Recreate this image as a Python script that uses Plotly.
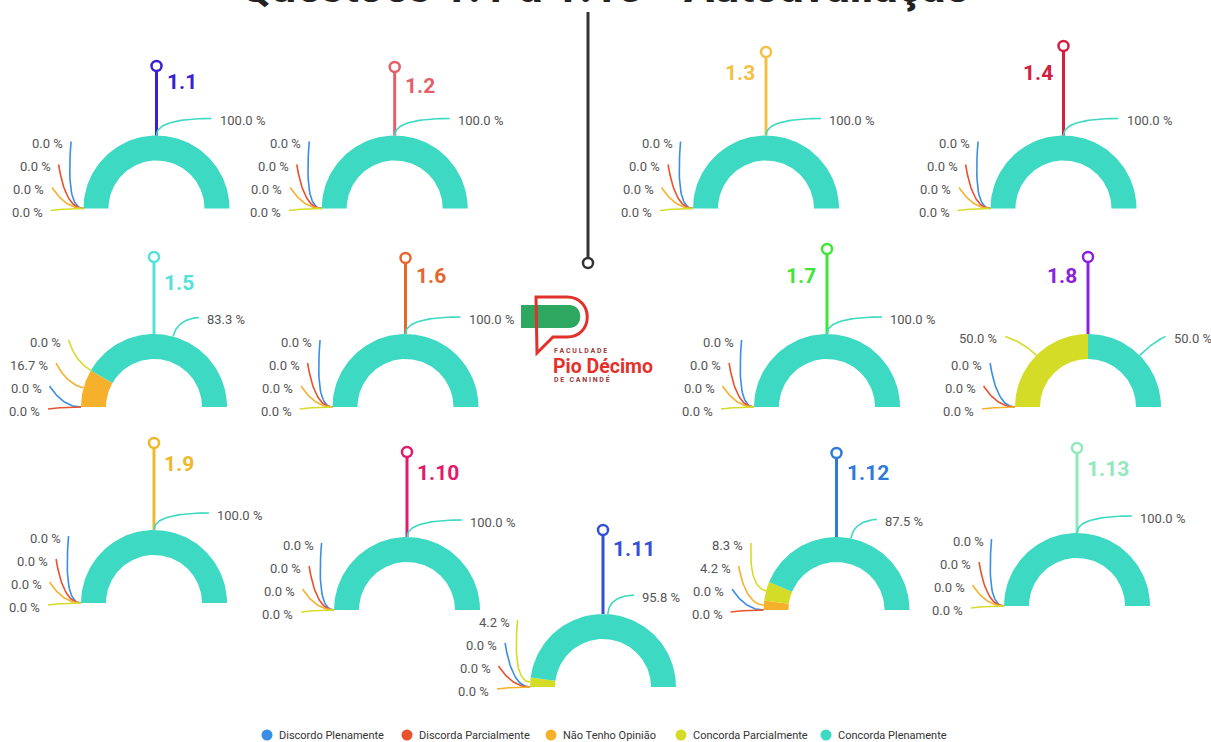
import math
import plotly.graph_objects as go

# ---------------- data ----------------
title_text = "Questões 1.1 a 1.13 - Autoavaliação"
categories = ["Discordo Plenamente", "Discorda Parcialmente", "Não Tenho Opinião",
              "Concorda Parcialmente", "Concorda Plenamente"]
questions = ["1.1", "1.2", "1.3", "1.4", "1.5", "1.6", "1.7", "1.8",
             "1.9", "1.10", "1.11", "1.12", "1.13"]
discordo_plenamente = [0.0, 0.0, 0.0, 0.0, 0.0, 0.0, 0.0, 0.0, 0.0, 0.0, 0.0, 0.0, 0.0]
discorda_parcialmente = [0.0, 0.0, 0.0, 0.0, 0.0, 0.0, 0.0, 0.0, 0.0, 0.0, 0.0, 0.0, 0.0]
nao_tenho_opiniao = [0.0, 0.0, 0.0, 0.0, 16.7, 0.0, 0.0, 0.0, 0.0, 0.0, 0.0, 4.2, 0.0]
concorda_parcialmente = [0.0, 0.0, 0.0, 0.0, 0.0, 0.0, 0.0, 50.0, 0.0, 0.0, 4.2, 8.3, 0.0]
concorda_plenamente = [100.0, 100.0, 100.0, 100.0, 83.3, 100.0, 100.0, 50.0, 100.0, 100.0, 95.8, 87.5, 100.0]

series = [discordo_plenamente, discorda_parcialmente, nao_tenho_opiniao,
          concorda_parcialmente, concorda_plenamente]

# ---------------- styles / layout ----------------
W, H = 1211, 742
R_OUT, R_IN = 73, 48
LABEL_R = 113
FONT = "Roboto"
slice_colors = ["#3a8ee6", "#e8532e", "#f5b12c", "#d5dc28", "#3dd9c2"]
text_color = "#555555"

# layout of each gauge: centre x, baseline y, pin-head y, title side, title y, colour
gauges = [
    dict(cx=156.5, base=208.5, pin=66, side="r", ty=82, color="#3a20d4"),
    dict(cx=394.7, base=208.5, pin=67, side="r", ty=86, color="#e45f68"),
    dict(cx=766.0, base=208.5, pin=52, side="l", ty=73, color="#f2c144"),
    dict(cx=1063.5, base=208.5, pin=46, side="l", ty=73, color="#d2213f"),
    dict(cx=154.0, base=407.0, pin=257, side="r", ty=283, color="#52e2d8"),
    dict(cx=405.5, base=407.0, pin=258, side="r", ty=276, color="#e4682e"),
    dict(cx=827.0, base=407.0, pin=249, side="l", ty=276, color="#3fe636"),
    dict(cx=1088.0, base=407.0, pin=257, side="l", ty=276, color="#8a22de"),
    dict(cx=154.0, base=603.0, pin=443, side="r", ty=464, color="#f0b828"),
    dict(cx=407.0, base=610.0, pin=452, side="r", ty=473, color="#e01a6c"),
    dict(cx=603.0, base=687.0, pin=530, side="r", ty=549, color="#3550d6"),
    dict(cx=836.5, base=610.0, pin=453, side="r", ty=473, color="#2f7bd9"),
    dict(cx=1077.0, base=606.0, pin=448, side="r", ty=469, color="#8fe9bb"),
]
legend_x = [267, 407, 551, 681, 826]
legend_y = 735


def pt(cx, base, r, ang):
    a = math.radians(ang)
    return cx + r * math.cos(a), base - r * math.sin(a)


def bez(p0, p1, p2, n=24):
    xs, ys = [], []
    for i in range(n + 1):
        t = i / n
        xs.append((1 - t) ** 2 * p0[0] + 2 * (1 - t) * t * p1[0] + t * t * p2[0])
        ys.append((1 - t) ** 2 * p0[1] + 2 * (1 - t) * t * p1[1] + t * t * p2[1])
    return xs, ys


def ctrl(start, ang, end_y, cap=18):
    dx, dy = math.cos(math.radians(ang)), -math.sin(math.radians(ang))
    t = cap
    if abs(dy) > 1e-6:
        tt = (end_y - start[1]) / dy
        if tt > 0:
            t = min(tt, cap)
    return start[0] + dx * t, start[1] + dy * t


fig = go.Figure()
annotations = []
leader_x = [[] for _ in categories]
leader_y = [[] for _ in categories]
pins = []

for gi, g in enumerate(gauges):
    cx, base = g["cx"], g["base"]
    vals = [s[gi] for s in series]
    total = sum(vals)
    cum = 0.0
    slices = []
    for k, v in enumerate(vals):
        a0 = 180 - 180 * cum / total
        cum += v
        a1 = 180 - 180 * cum / total
        slices.append(dict(k=k, v=v, a0=a0, a1=a1, mid=(a0 + a1) / 2))
        if v > 0:
            n = max(3, int(abs(a0 - a1) / 2) + 2)
            xs, ys = [], []
            for i in range(n + 1):
                x, y = pt(cx, base, R_OUT, a0 + (a1 - a0) * i / n)
                xs.append(x); ys.append(y)
            for i in range(n + 1):
                x, y = pt(cx, base, R_IN, a1 + (a0 - a1) * i / n)
                xs.append(x); ys.append(y)
            xs.append(xs[0]); ys.append(ys[0])
            fig.add_trace(go.Scatter(x=xs, y=ys, mode="lines", fill="toself",
                                     fillcolor=slice_colors[k], line=dict(width=0),
                                     hoverinfo="skip", showlegend=False))

    # pin
    fig.add_trace(go.Scatter(x=[cx, cx], y=[base - R_OUT, g["pin"] + 4], mode="lines",
                             line=dict(color=g["color"], width=3), hoverinfo="skip",
                             showlegend=False))
    pins.append((cx, g["pin"], g["color"]))
    if g["side"] == "r":
        annotations.append(dict(x=cx + 8, y=g["ty"], xanchor="left", yanchor="middle",
                                text="<b>%s</b>" % questions[gi], showarrow=False,
                                font=dict(family=FONT, size=21, color=g["color"])))
    else:
        annotations.append(dict(x=cx - 9, y=g["ty"], xanchor="right", yanchor="middle",
                                text="<b>%s</b>" % questions[gi], showarrow=False,
                                font=dict(family=FONT, size=21, color=g["color"])))

    # labels
    left = [s for s in slices if s["mid"] > 90.0001]
    right = [s for s in slices if s["mid"] <= 90.0001]
    left.sort(key=lambda s: (s["mid"], s["k"]), reverse=True)
    prev = None
    for s in left:
        sp = pt(cx, base, R_OUT, s["mid"])
        natural = sp[1] - 17 if (base - sp[1]) > 20 else base + 4
        y = natural if prev is None else min(prev - 23, natural)
        prev = y
        dy = min(abs(y - base), LABEL_R - 1)
        xr = cx - math.sqrt(LABEL_R ** 2 - dy ** 2) + 1
        end = (xr + 6, y - 2)
        c = ctrl(sp, s["mid"], end[1])
        xs, ys = bez(sp, c, end)
        leader_x[s["k"]] += xs + [None]
        leader_y[s["k"]] += ys + [None]
        annotations.append(dict(x=xr, y=y, xanchor="right", yanchor="middle",
                                text="%.1f %%" % s["v"], showarrow=False,
                                font=dict(family=FONT, size=13, color=text_color)))
    right.sort(key=lambda s: (s["mid"], s["k"]), reverse=True)
    prev = None
    for s in right:
        sp = pt(cx, base, R_OUT, s["mid"])
        if abs(s["v"] - total) < 1e-9:
            xl, natural = cx + 61, base - 88
        else:
            xl, natural = sp[0] + 32, sp[1] - 17
        y = natural if prev is None else max(prev + 23, natural)
        prev = y
        end = (xl - 6, y - 2)
        c = ctrl(sp, s["mid"], end[1])
        xs, ys = bez(sp, c, end)
        leader_x[s["k"]] += xs + [None]
        leader_y[s["k"]] += ys + [None]
        annotations.append(dict(x=xl, y=y, xanchor="left", yanchor="middle",
                                text="%.1f %%" % s["v"], showarrow=False,
                                font=dict(family=FONT, size=13, color=text_color)))

for k in range(len(categories)):
    fig.add_trace(go.Scatter(x=leader_x[k], y=leader_y[k], mode="lines",
                             line=dict(color=slice_colors[k], width=1.6),
                             hoverinfo="skip", showlegend=False))

fig.add_trace(go.Scatter(x=[p[0] for p in pins], y=[p[1] for p in pins], mode="markers",
                         marker=dict(symbol="circle", size=10, color="white",
                                     line=dict(color=[p[2] for p in pins], width=2.5)),
                         hoverinfo="skip", showlegend=False))

# central connector from the title
fig.add_trace(go.Scatter(x=[588, 588], y=[12, 259], mode="lines",
                         line=dict(color="#333333", width=3), hoverinfo="skip", showlegend=False))
fig.add_trace(go.Scatter(x=[588], y=[263], mode="markers",
                         marker=dict(size=10, color="white", line=dict(color="#333333", width=2.5)),
                         hoverinfo="skip", showlegend=False))

# legend
fig.add_trace(go.Scatter(x=legend_x, y=[legend_y] * len(legend_x), mode="markers",
                         marker=dict(size=11, color=slice_colors), hoverinfo="skip",
                         showlegend=False))
for lx, name in zip(legend_x, categories):
    annotations.append(dict(x=lx + 10, y=legend_y, xanchor="left", yanchor="middle",
                            text=name, showarrow=False,
                            font=dict(family=FONT, size=11, color="#333333")))

# title (cut by the top edge, as in the reference)
annotations.append(dict(x=605 / W, y=1, xref="paper", yref="paper",
                        xanchor="center", yanchor="middle", yshift=14,
                        text="<b>%s</b>" % title_text, showarrow=False,
                        font=dict(family=FONT, size=45, color="#222222")))

# logo
shapes = [
    dict(type="path", path="M 521,305 L 569,305 C 584,305 584,328 569,328 L 521,328 Z",
         fillcolor="#2ea860", line=dict(width=0), layer="above"),
    dict(type="path", path="M 536,297 L 567,297 C 594,297 594,337 567,337 L 553,337 L 537,353 Z",
         fillcolor="rgba(0,0,0,0)", line=dict(color="#e0312b", width=3), layer="above"),
]
annotations.append(dict(x=552, y=351, xanchor="left", yanchor="middle",
                        text="<b>F A C U L D A D E</b>", showarrow=False,
                        font=dict(family=FONT, size=7, color="#9b3a36")))
annotations.append(dict(x=551, y=366, xanchor="left", yanchor="middle",
                        text="<b>Pio Décimo</b>", showarrow=False,
                        font=dict(family=FONT, size=19.5, color="#e4322b")))
annotations.append(dict(x=552, y=379, xanchor="left", yanchor="middle",
                        text="<b>D E   C A N I N D É</b>", showarrow=False,
                        font=dict(family=FONT, size=7, color="#9b3a36")))

fig.update_layout(
    width=W, height=H, margin=dict(l=0, r=0, t=0, b=0),
    paper_bgcolor="white", plot_bgcolor="white",
    xaxis=dict(range=[0, W], visible=False, fixedrange=True),
    yaxis=dict(range=[H, 0], visible=False, fixedrange=True),
    annotations=annotations, shapes=shapes, showlegend=False,
)

fig.write_html("out.html", config={"displayModeBar": False},
               post_script="document.body.style.margin='0';document.body.style.overflow='hidden';")
